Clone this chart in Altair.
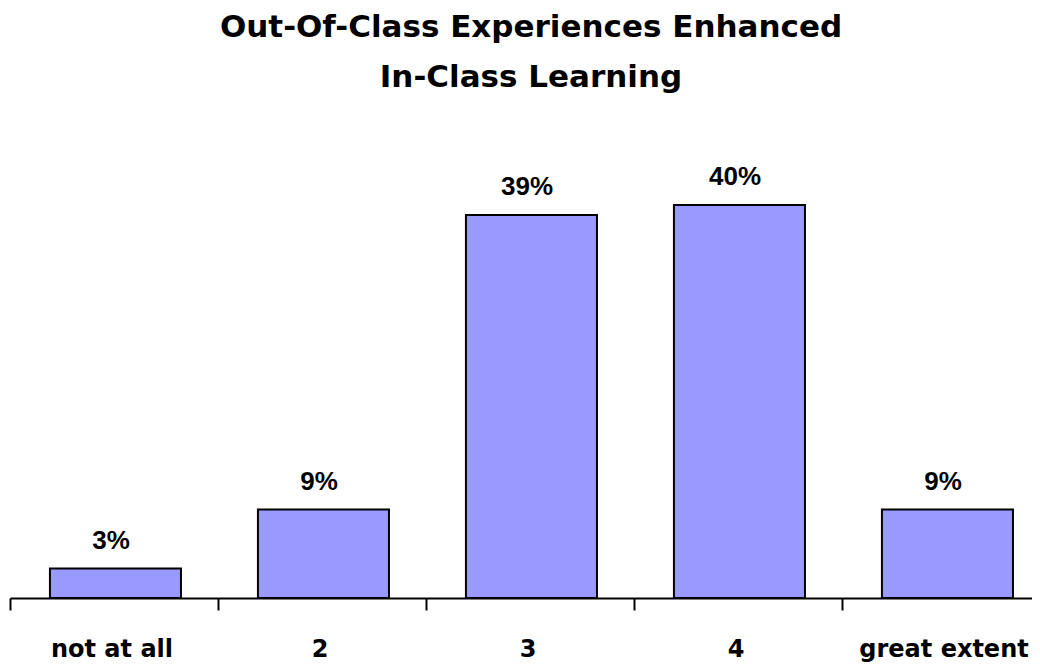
import altair as alt
import pandas as pd

categories = ["not at all", "2", "3", "4", "great extent"]
values = [3, 9, 39, 40, 9]
labels = ["3%", "9%", "39%", "40%", "9%"]
positions = [0, 1, 2, 3, 4]

df = pd.DataFrame({"category": categories, "value": values, "label": labels, "pos": positions})

W, H = 1022, 442
STEP = 208.0
xscale = alt.Scale(domain=[0, W / STEP], nice=False, zero=False)
yscale = alt.Scale(domain=[0, 45], nice=False)

base = alt.Chart(df).transform_calculate(
    x0="datum.pos + 0.192",
    x1="datum.pos + 0.822",
    xc="datum.pos + 0.5",
)

bars = base.mark_bar(color="#9999FF", stroke="black", strokeWidth=2).encode(
    x=alt.X("x0:Q", scale=xscale, axis=alt.Axis(
        values=[0, 1, 2, 3, 4], labels=False, ticks=True, tickSize=12, tickWidth=2,
        tickColor="black", domainColor="black", domainWidth=2, grid=False, title=None)),
    x2="x1:Q",
    y=alt.Y("value:Q", scale=yscale, axis=None),
    y2=alt.datum(0),
)

vals = base.mark_text(font="Liberation Sans", fontWeight="bold", fontSize=26,
                      baseline="alphabetic", align="center", dy=-20, dx=-3, color="black").encode(
    x=alt.X("xc:Q", scale=xscale),
    y=alt.Y("value:Q", scale=yscale),
    text="label:N",
)

cats = base.mark_text(font="DejaVu Sans", fontWeight="bold", fontSize=24,
                      baseline="alphabetic", align="center", dx=-2, color="black").encode(
    x=alt.X("xc:Q", scale=xscale),
    y=alt.value(H + 59),
    text="category:N",
)

chart = alt.layer(bars, vals, cats).properties(
    width=W, height=H,
    autosize=alt.AutoSizeParams(type="none"),
    padding={"left": 2, "top": 148, "right": 0, "bottom": 66},
    background="white",
    title=alt.Title(["Out-Of-Class Experiences Enhanced", "In-Class Learning"],
                    font="DejaVu Sans", fontSize=31, fontWeight="bold", color="black",
                    lineHeight=50, offset=62, dx=10, anchor="middle"),
).configure_view(stroke=None)

chart.save("out.html", embed_options={"renderer": "svg", "actions": False})
